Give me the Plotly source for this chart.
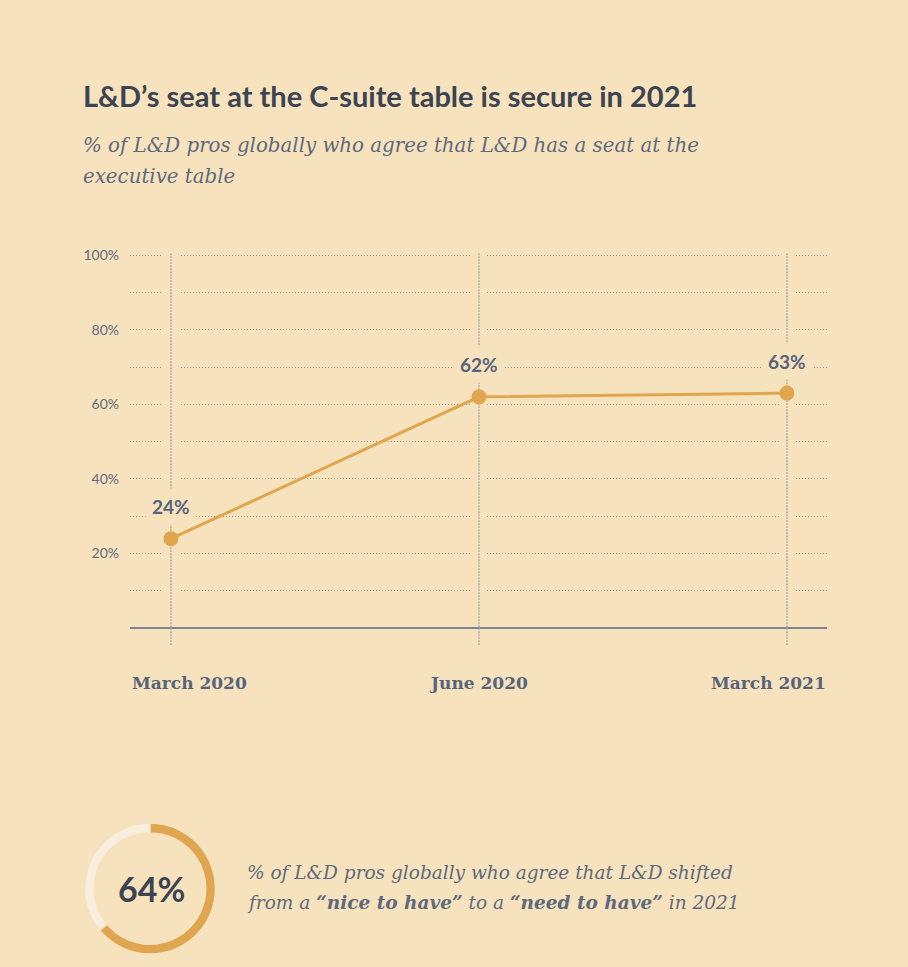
import plotly.graph_objects as go


W, H = 908, 967
BG = '#F7E2BE'
GOLD = '#DFA64F'
INK = '#3C4452'
SLATE = '#56657B'
GRID = '#8E9098'

# data
periods = ['March 2020', 'June 2020', 'March 2021']
agree_pct = [24, 62, 63]
y_ticks = [20, 40, 60, 80, 100]
y_minor = [10, 30, 50, 70, 90]
shift_pct = 64

subtitle_lines = ['% of L&D pros globally who agree that L&D has a seat at the', 'executive table']
stat_lines = ['% of L&D pros globally who agree that L&D shifted',
              'from a <b>“nice to have”</b> to a <b>“need to have”</b> in 2021']


def px_x(p):
    return p / W


def px_y(p):
    return 1 - p / H


fig = go.Figure()

# main line
fig.add_trace(go.Scatter(
    x=periods, y=agree_pct, mode='lines+markers',
    line=dict(color=GOLD, width=3),
    marker=dict(color=GOLD, size=15),
    hoverinfo='skip', showlegend=False,
))

# donut for the bottom stat
fig.add_trace(go.Pie(
    values=[shift_pct, 100 - shift_pct],
    hole=0.85, sort=False, direction='clockwise', rotation=0,
    marker=dict(colors=[GOLD, '#F8EEDD'], line=dict(color=BG, width=1.5)),
    textinfo='none', hoverinfo='skip', showlegend=False,
    domain=dict(x=[px_x(84), px_x(216)], y=[px_y(954), px_y(822)]),
))

# vertical dotted guides; a background-coloured band breaks the gridlines around them
for i in range(len(periods)):
    fig.add_shape(type='line', xref='x', yref='y', x0=i, x1=i, y0=2, y1=102,
                  line=dict(color=BG, width=16), layer='between')
    fig.add_shape(type='line', xref='x', yref='y', x0=i, x1=i, y0=-4.6, y1=100.5,
                  line=dict(color='#B4AFA4', width=1.5, dash='2px,1px'), layer='between')

# value labels
for p, v in zip(periods, agree_pct):
    fig.add_annotation(x=p, y=v, text=f'{v}%', showarrow=False, yshift=32,
                       font=dict(family='Lato', size=19, color=SLATE, weight=700),
                       bgcolor=BG, borderpad=6)

# x labels (left / centre / right aligned like the original)
anchors = ['left', 'center', 'right']
xshift = [-41, 0, 41]
for i, p in enumerate(periods):
    fig.add_annotation(x=i, y=0, yref='y', text=f'<b>{p}</b>', showarrow=False,
                       xanchor=anchors[i], yanchor='middle', xshift=xshift[i], yshift=-55,
                       font=dict(family='DejaVu Serif', size=17, color=SLATE))

# titles
fig.add_annotation(xref='paper', yref='paper', x=px_x(81), y=px_y(89), xanchor='left', yanchor='middle',
                   text='L&D’s seat at the C-suite table is secure in 2021', showarrow=False,
                   font=dict(family='Lato', size=29, color=INK, weight=700))
for k, line in enumerate(subtitle_lines):
    fig.add_annotation(xref='paper', yref='paper', x=px_x(81), y=px_y(140 + 31 * k),
                       xanchor='left', yanchor='middle', text=f'<i>{line}</i>', showarrow=False,
                       font=dict(family='DejaVu Serif', size=19.8, color='#5E6A7C'))

# bottom stat text
fig.add_annotation(xref='paper', yref='paper', x=px_x(151), y=px_y(888), xanchor='center', yanchor='middle',
                   text=f'{shift_pct}%', showarrow=False,
                   font=dict(family='Lato', size=34, color=INK, weight=700))
for k, line in enumerate(stat_lines):
    fig.add_annotation(xref='paper', yref='paper', x=px_x(245), y=px_y(872 + 30 * k),
                       xanchor='left', yanchor='middle', text=f'<i>{line}</i>', showarrow=False,
                       font=dict(family='DejaVu Serif', size=18.5, color='#5E6A7C'))

fig.update_layout(
    width=W, height=H,
    margin=dict(l=0, r=0, t=0, b=0),
    paper_bgcolor=BG, plot_bgcolor=BG,
    xaxis=dict(domain=[px_x(130), px_x(827)], range=[-0.133, 2.13],
               showgrid=False, showticklabels=False, zeroline=False, ticks=''),
    yaxis=dict(domain=[px_y(643), px_y(248)], range=[-4.6, 100.5],
               tickvals=y_ticks, ticktext=[f'{t}%' for t in y_ticks],
               showgrid=True, gridcolor=GRID, griddash='1px,2px', gridwidth=1,
               minor=dict(tickvals=y_minor, showgrid=True, gridcolor=GRID, griddash='1px,2px', gridwidth=1),
               zeroline=True, zerolinecolor='#7C8493', zerolinewidth=1.5,
               ticks='', ticklabelstandoff=10,
               tickfont=dict(family='Lato', size=14, color='#5F6B7E')),
)

fig.write_html('out.html', config=dict(displayModeBar=False),
               post_script="document.body.style.margin='0';document.body.style.overflow='hidden';")
